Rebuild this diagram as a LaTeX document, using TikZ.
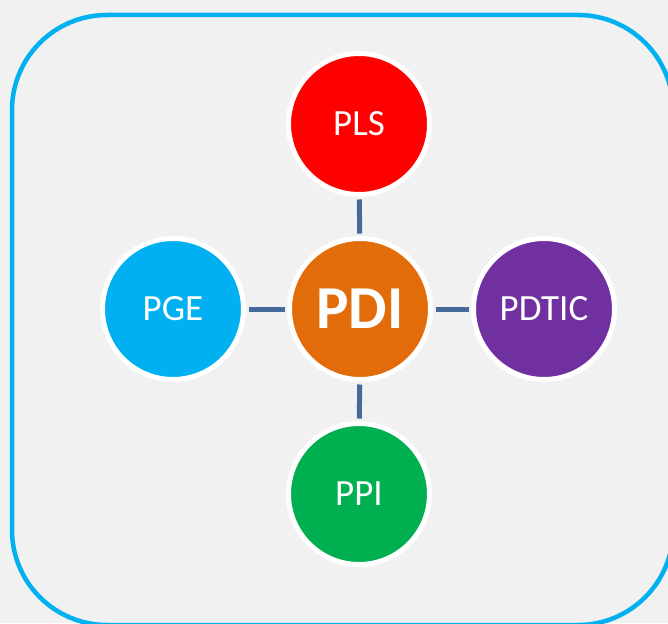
\documentclass[tikz,border=0pt]{standalone}
\usepackage{fontspec}
\setmainfont{Carlito}

\definecolor{frameblue}{HTML}{00B0F0}
\definecolor{linkblue}{HTML}{44699A}
\definecolor{plsred}{HTML}{FF0000}
\definecolor{pgecyan}{HTML}{00B0F0}
\definecolor{pdiorange}{HTML}{E36C0A}
\definecolor{pdticpurple}{HTML}{7030A0}
\definecolor{ppigreen}{HTML}{00B050}
\definecolor{backgray}{HTML}{F1F1F1}

\tikzset{
    unitnode/.style={circle, draw=white, line width=5pt, minimum size=141pt,
        inner sep=0pt, text=white, font=\fontsize{37}{37}\selectfont},
    hubnode/.style={unitnode, fill=pdiorange, font=\fontsize{61}{61}\selectfont\bfseries},
    link/.style={linkblue, line width=5pt, shorten <=2.5pt, shorten >=2.5pt}
}

\begin{document}
\begin{tikzpicture}[x=1pt, y=-1pt]

    % Page and background
    \useasboundingbox (0,0) rectangle (668,623);
    \clip (0,0) rectangle (668,623);
    \fill[backgray] (0,0) rectangle (668,623);

    % Frame
    \draw[frameblue, line width=4.5pt, rounded corners=95pt] (12,15) rectangle (673,625);

    %% Units
    \node[hubnode] (PDI) at (360,309) {PDI};
    \node[unitnode, fill=plsred] (PLS) at (359,124) {PLS};
    \node[unitnode, fill=pgecyan] (PGE) at (173,309) {PGE};
    \node[unitnode, fill=pdticpurple] (PDTIC) at (544,309) {PDTIC};
    \node[unitnode, fill=ppigreen] (PPI) at (359,494) {PPI};

    % Links
    \draw[link] (PDI) -- (PLS);
    \draw[link] (PDI) -- (PGE);
    \draw[link] (PDI) -- (PDTIC);
    \draw[link] (PDI) -- (PPI);

\end{tikzpicture}
\end{document}
